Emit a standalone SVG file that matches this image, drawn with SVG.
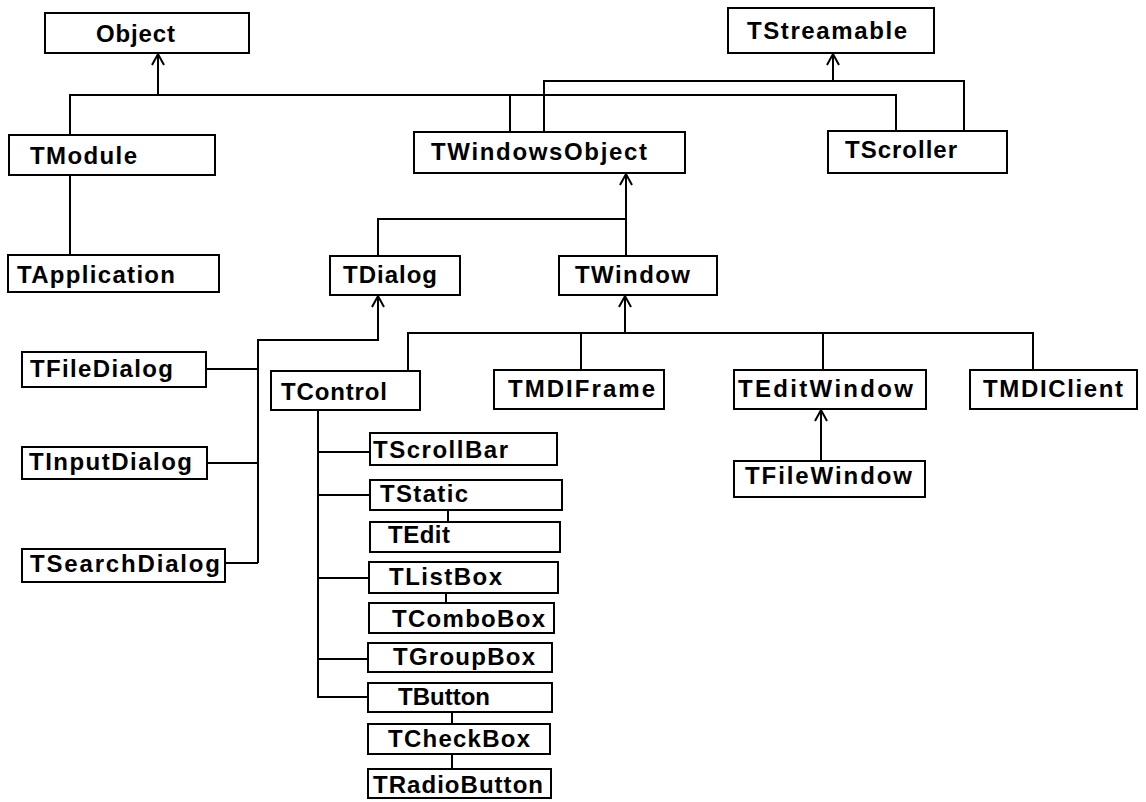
<svg xmlns="http://www.w3.org/2000/svg" width="1146" height="802" viewBox="0 0 1146 802">
<style>
.b{fill:#fff;stroke:#000;stroke-width:2}
.t{font-family:"Liberation Sans",Arial,sans-serif;font-weight:bold;font-size:24px;fill:#000}
.c{fill:none;stroke:#000;stroke-width:2}
</style>
<defs>
<marker id="ah" markerUnits="userSpaceOnUse" markerWidth="20" markerHeight="20" refX="0" refY="0" viewBox="-12 -10 14 20" orient="auto" overflow="visible">
<path d="M-11,-6 L0,0 L-11,6" fill="none" stroke="#000" stroke-width="2"/>
</marker>
</defs>
<rect width="1146" height="802" fill="#fff"/>
<g id="connectors">
<path class="c" d="M70,175 V95 H896 V131"/>
<path class="c" d="M510,95 V132"/>
<path class="c" d="M158,95 V54" marker-end="url(#ah)"/>
<path class="c" d="M544,132 V81 H964 V131"/>
<path class="c" d="M833,81 V54" marker-end="url(#ah)"/>
<path class="c" d="M70,175 V255"/>
<path class="c" d="M378,256 V219 H626"/>
<path class="c" d="M626,256 V174" marker-end="url(#ah)"/>
<path class="c" d="M206,369 H258 M207,463 H258 M225,563 H258"/>
<path class="c" d="M258,563 V340 H378 V296" marker-end="url(#ah)"/>
<path class="c" d="M408,371 V333 H1033 V370 M581,333 V370 M823,333 V370"/>
<path class="c" d="M625,333 V296" marker-end="url(#ah)"/>
<path class="c" d="M821,461 V410" marker-end="url(#ah)"/>
<path class="c" d="M318,410 V697 H368 M318,452 H370 M318,495 H370 M318,578 H369 M318,659 H368"/>
<path class="c" d="M448,510 V522 M446,593 V603 M452,712 V724 M452,754 V769"/>
</g>
<g id="Object"><rect class="b" x="45" y="13" width="204" height="40"/><text class="t" x="96" y="42" textLength="79" lengthAdjust="spacing">Object</text></g>
<g id="TStreamable"><rect class="b" x="728" y="8" width="206" height="45"/><text class="t" x="747" y="39" textLength="160" lengthAdjust="spacing">TStreamable</text></g>
<g id="TModule"><rect class="b" x="9" y="135" width="206" height="40"/><text class="t" x="30" y="164" textLength="107" lengthAdjust="spacing">TModule</text></g>
<g id="TApplication"><rect class="b" x="8" y="255" width="211" height="37"/><text class="t" x="17" y="283" textLength="158" lengthAdjust="spacing">TApplication</text></g>
<g id="TWindowsObject"><rect class="b" x="414" y="132" width="271" height="41"/><text class="t" x="431" y="160" textLength="216" lengthAdjust="spacing">TWindowsObject</text></g>
<g id="TScroller"><rect class="b" x="828" y="131" width="179" height="42"/><text class="t" x="845" y="158" textLength="112" lengthAdjust="spacing">TScroller</text></g>
<g id="TDialog"><rect class="b" x="330" y="256" width="130" height="39"/><text class="t" x="343" y="283" textLength="94" lengthAdjust="spacing">TDialog</text></g>
<g id="TWindow"><rect class="b" x="559" y="256" width="158" height="39"/><text class="t" x="575" y="283" textLength="115" lengthAdjust="spacing">TWindow</text></g>
<g id="TFileDialog"><rect class="b" x="22" y="352" width="184" height="35"/><text class="t" x="30" y="377" textLength="143" lengthAdjust="spacing">TFileDialog</text></g>
<g id="TInputDialog"><rect class="b" x="22" y="447" width="185" height="32"/><text class="t" x="29" y="470" textLength="163" lengthAdjust="spacing">TInputDialog</text></g>
<g id="TSearchDialog"><rect class="b" x="22" y="549" width="203" height="33"/><text class="t" x="30" y="572" textLength="190" lengthAdjust="spacing">TSearchDialog</text></g>
<g id="TControl"><rect class="b" x="271" y="371" width="149" height="39"/><text class="t" x="281" y="400" textLength="106" lengthAdjust="spacing">TControl</text></g>
<g id="TMDIFrame"><rect class="b" x="494" y="370" width="170" height="39"/><text class="t" x="508" y="397" textLength="147" lengthAdjust="spacing">TMDIFrame</text></g>
<g id="TEditWindow"><rect class="b" x="734" y="370" width="192" height="39"/><text class="t" x="738" y="397" textLength="175" lengthAdjust="spacing">TEditWindow</text></g>
<g id="TMDIClient"><rect class="b" x="970" y="370" width="167" height="39"/><text class="t" x="983" y="397" textLength="140" lengthAdjust="spacing">TMDIClient</text></g>
<g id="TFileWindow"><rect class="b" x="734" y="461" width="191" height="36"/><text class="t" x="745" y="484" textLength="167" lengthAdjust="spacing">TFileWindow</text></g>
<g id="TScrollBar"><rect class="b" x="370" y="433" width="187" height="32"/><text class="t" x="373" y="458" textLength="135" lengthAdjust="spacing">TScrollBar</text></g>
<g id="TStatic"><rect class="b" x="370" y="480" width="192" height="30"/><text class="t" x="380" y="502" textLength="88" lengthAdjust="spacing">TStatic</text></g>
<g id="TEdit"><rect class="b" x="370" y="522" width="190" height="30"/><text class="t" x="388" y="543" textLength="62" lengthAdjust="spacing">TEdit</text></g>
<g id="TListBox"><rect class="b" x="369" y="562" width="189" height="31"/><text class="t" x="389" y="585" textLength="113" lengthAdjust="spacing">TListBox</text></g>
<g id="TComboBox"><rect class="b" x="369" y="603" width="185" height="30"/><text class="t" x="392" y="627" textLength="153" lengthAdjust="spacing">TComboBox</text></g>
<g id="TGroupBox"><rect class="b" x="368" y="643" width="184" height="29"/><text class="t" x="393" y="665" textLength="142" lengthAdjust="spacing">TGroupBox</text></g>
<g id="TButton"><rect class="b" x="368" y="683" width="184" height="29"/><text class="t" x="398" y="705" textLength="92" lengthAdjust="spacing">TButton</text></g>
<g id="TCheckBox"><rect class="b" x="368" y="724" width="182" height="30"/><text class="t" x="388" y="747" textLength="142" lengthAdjust="spacing">TCheckBox</text></g>
<g id="TRadioButton"><rect class="b" x="368" y="769" width="183" height="29"/><text class="t" x="373" y="793" textLength="170" lengthAdjust="spacing">TRadioButton</text></g>
</svg>
